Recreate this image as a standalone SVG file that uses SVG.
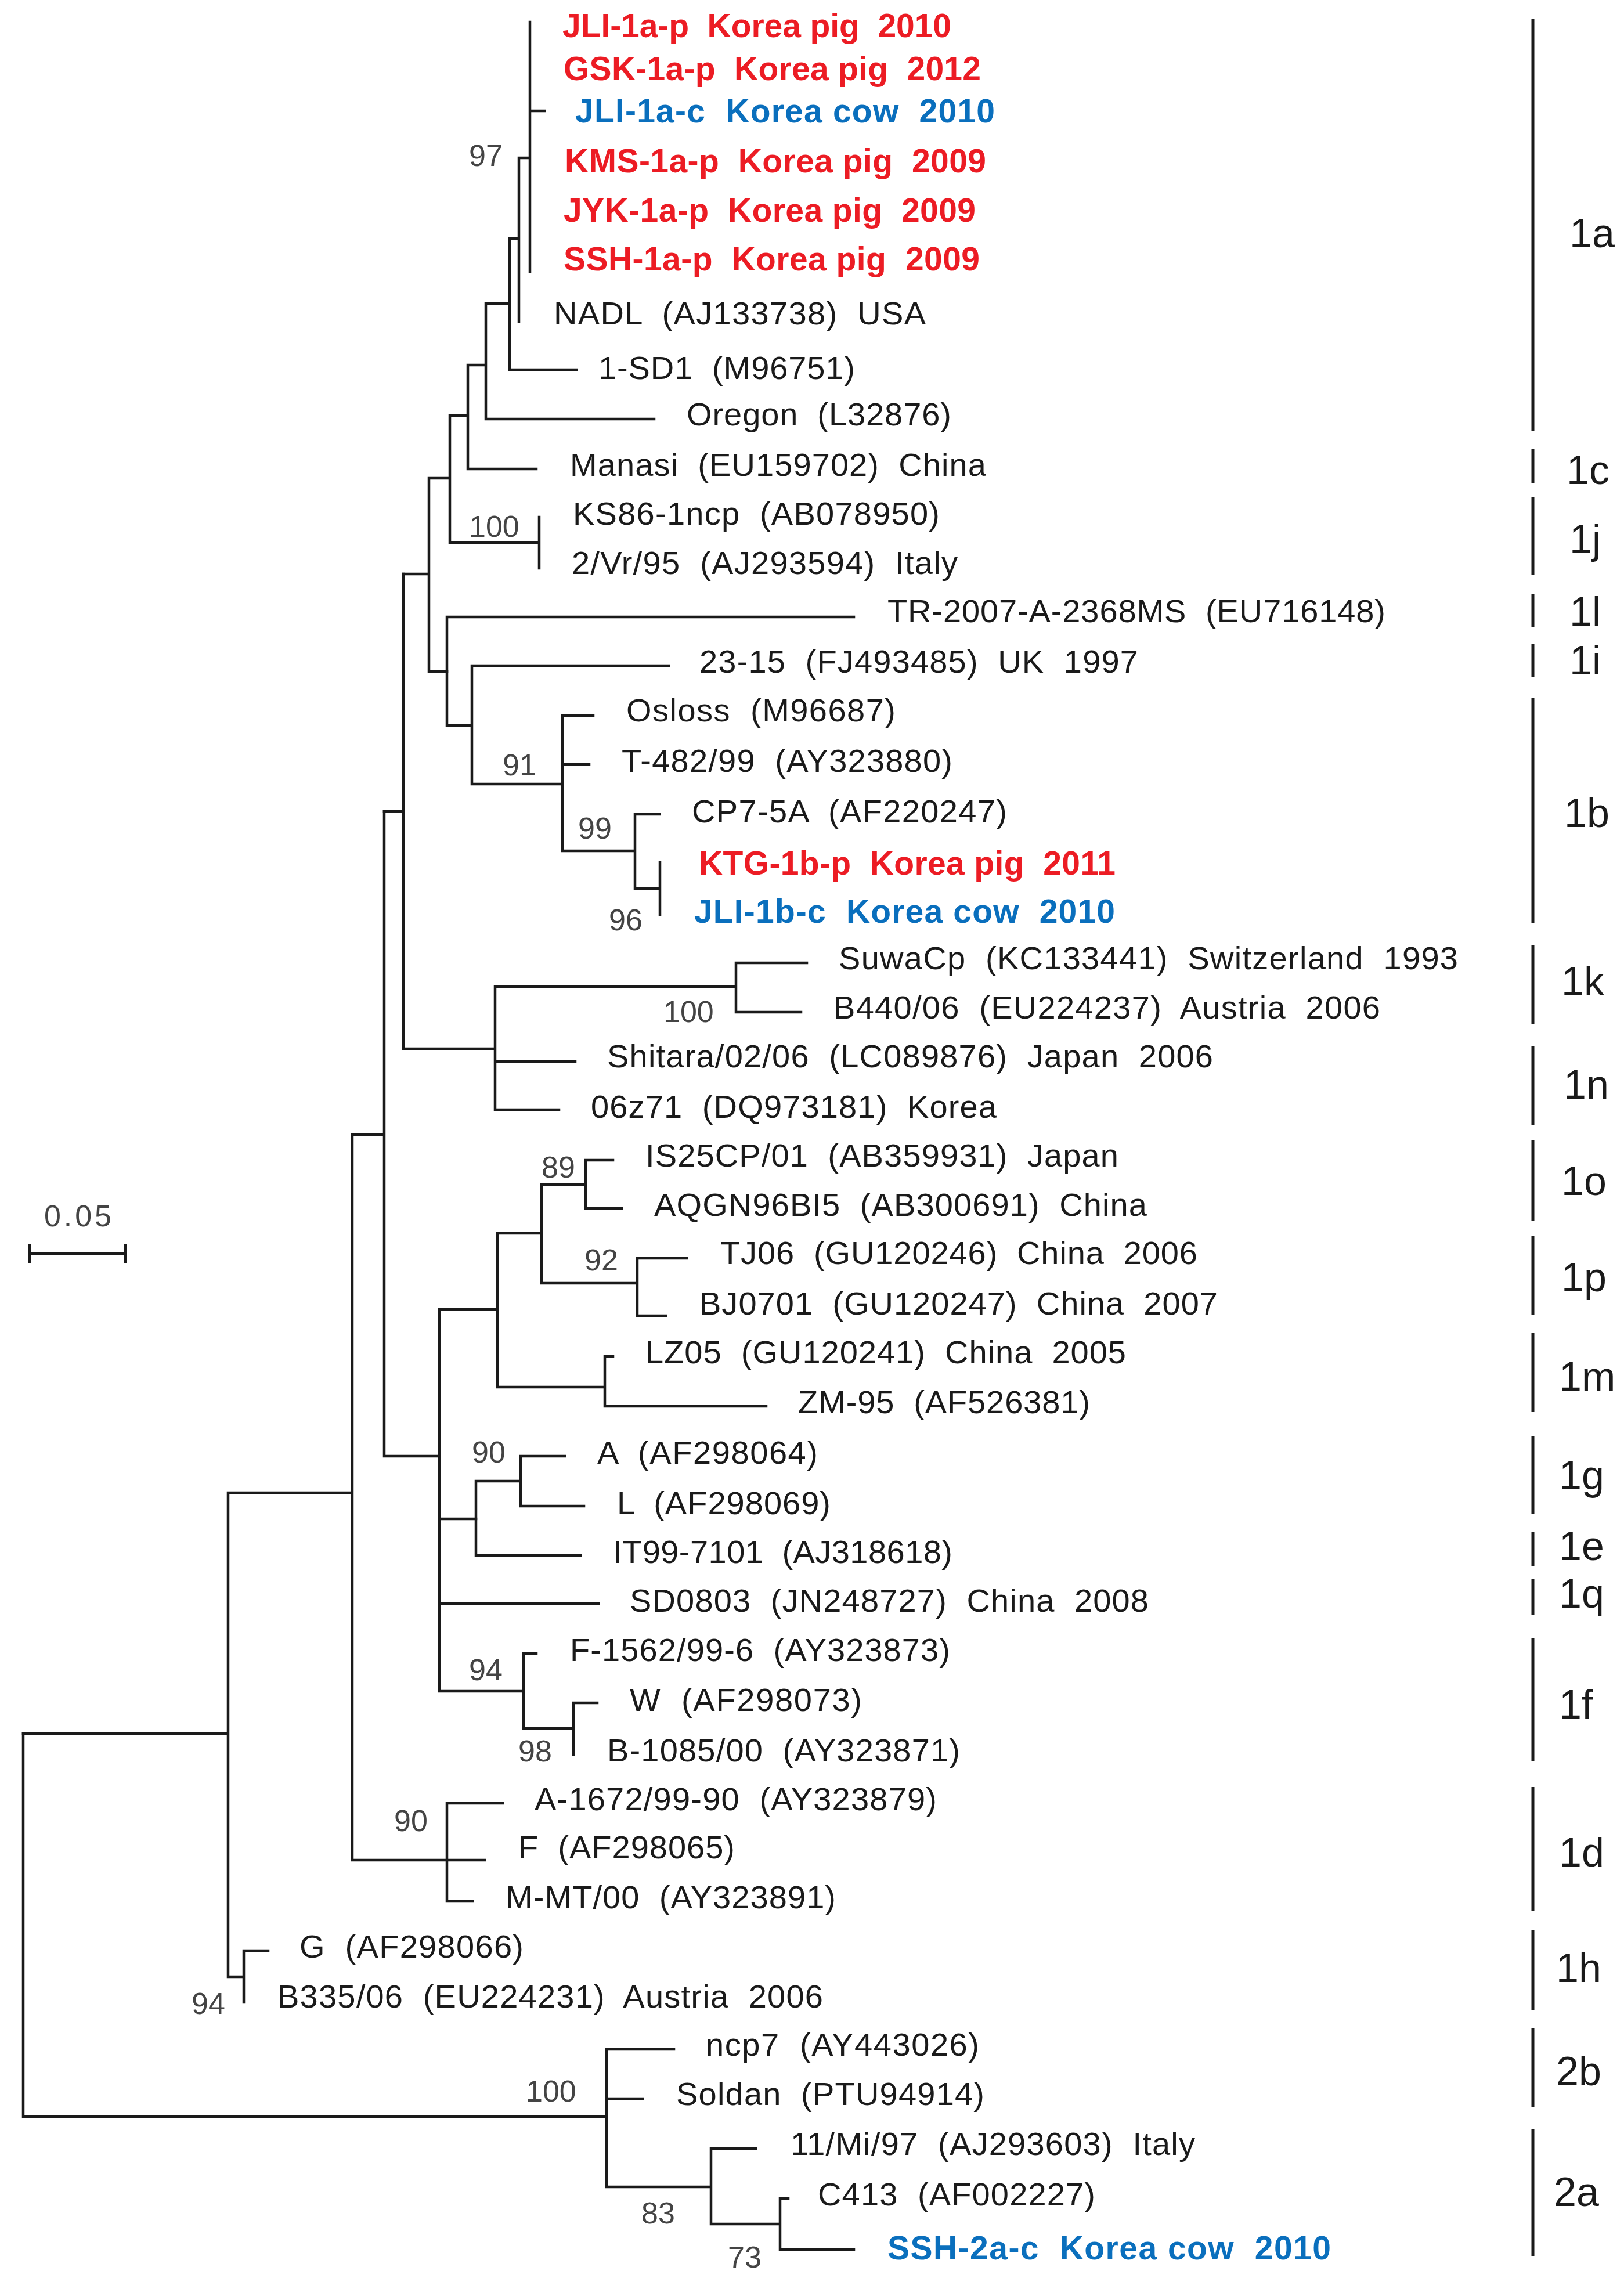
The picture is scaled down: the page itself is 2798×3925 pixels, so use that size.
<svg xmlns="http://www.w3.org/2000/svg" width="2798" height="3925" viewBox="0 0 2798 3925" xml:space="preserve">
<style>
text{font-family:"Liberation Sans",Arial,sans-serif;white-space:pre}
.lf{font-size:56px;fill:#1a1a1a}
.r{font-size:57px;font-weight:bold;fill:#ec1c24}
.b{font-size:57px;font-weight:bold;fill:#0a6fbd}
.bs{font-size:52px;fill:#444}
.cl{font-size:70px;fill:#1a1a1a}
.br path{fill:none;stroke:#1a1a1a;stroke-width:4.5;stroke-linecap:square}
.bar{stroke:#1a1a1a;stroke-width:5}
</style>
<rect width="2798" height="3925" fill="#fff"/>
<g id="connectors" class="br">
<path d="M913,38V468M913,191H938M894,272H913M894,272V554M878,411H894M878,411V637M878,637H993M837,523H878M837,523V722M837,722H1127M806,629H837M806,629V808M806,808H924M775,716H806M775,716V935M775,935H929M929,891V979M739,824H775M739,824V1157M739,1157H770M695,989H739"/>
<path d="M770,1063V1250M770,1063H1471M770,1250H813M813,1147V1351M813,1147H1152M813,1351H969M969,1233V1466M969,1233H1022M969,1317H1015M969,1466H1094M1094,1403V1531M1094,1403H1136M1094,1531H1137M1137,1486V1576"/>
<path d="M695,989V1807M695,1807H853M662,1398H695M853,1700V1912M853,1700H1268M853,1829H991M853,1912H963M1268,1659V1744M1268,1659H1390M1268,1744H1380"/>
<path d="M662,1398V2509M662,2509H757M607,1955H662M757,2256V2914M757,2256H857M757,2617H820M757,2763H1031M757,2914H902M857,2125V2390M857,2125H933M857,2390H1042M933,2041V2211M933,2041H1009M933,2211H1098M1009,1999V2082M1009,1999H1056M1009,2082H1071M1098,2168V2267M1098,2168H1183M1098,2267H1147M1042,2337V2423M1042,2337H1056M1042,2423H1320"/>
<path d="M820,2552V2680M820,2552H897M820,2680H1000M897,2509V2595M897,2509H973M897,2595H1006M902,2849V2978M902,2849H924M902,2978H988M988,2934V3023M988,2934H1029"/>
<path d="M607,1955V3205M607,3205H770M393,2572H607M770,3107V3276M770,3107H866M770,3205H835M770,3276H814M393,2572V3406M393,3406H420M40,2987H393M420,3361V3450M420,3361H462"/>
<path d="M40,2987V3647M40,3647H1045M1045,3531V3768M1045,3531H1161M1045,3616H1107M1045,3768H1225M1225,3702V3832M1225,3702H1302M1225,3832H1344M1344,3788V3876M1344,3788H1358M1344,3876H1471"/>
</g>
<g id="leaves">
<g id="n1"><text class="r" x="969" y="64" textLength="670" lengthAdjust="spacing">JLI-1a-p  Korea pig  2010</text></g>
<g id="n2"><text class="r" x="971" y="138" textLength="719" lengthAdjust="spacing">GSK-1a-p  Korea pig  2012</text></g>
<g id="n3"><text class="b" x="991" y="211" textLength="723" lengthAdjust="spacing">JLI-1a-c  Korea cow  2010</text></g>
<g id="n4"><text class="r" x="973" y="297" textLength="726" lengthAdjust="spacing">KMS-1a-p  Korea pig  2009</text></g>
<g id="n5"><text class="r" x="971" y="382" textLength="710" lengthAdjust="spacing">JYK-1a-p  Korea pig  2009</text></g>
<g id="n6"><text class="r" x="971" y="466" textLength="717" lengthAdjust="spacing">SSH-1a-p  Korea pig  2009</text></g>
<g id="n7"><text class="lf" x="954" y="559" textLength="641" lengthAdjust="spacing">NADL  (AJ133738)  USA</text></g>
<g id="n8"><text class="lf" x="1031" y="653" textLength="442" lengthAdjust="spacing">1-SD1  (M96751)</text></g>
<g id="n9"><text class="lf" x="1183" y="733" textLength="456" lengthAdjust="spacing">Oregon  (L32876)</text></g>
<g id="n10"><text class="lf" x="982" y="820" textLength="717" lengthAdjust="spacing">Manasi  (EU159702)  China</text></g>
<g id="n11"><text class="lf" x="987" y="904" textLength="632" lengthAdjust="spacing">KS86-1ncp  (AB078950)</text></g>
<g id="n12"><text class="lf" x="985" y="989" textLength="665" lengthAdjust="spacing">2/Vr/95  (AJ293594)  Italy</text></g>
<g id="n13"><text class="lf" x="1529" y="1072" textLength="858" lengthAdjust="spacing">TR-2007-A-2368MS  (EU716148)</text></g>
<g id="n14"><text class="lf" x="1205" y="1159" textLength="756" lengthAdjust="spacing">23-15  (FJ493485)  UK  1997</text></g>
<g id="n15"><text class="lf" x="1079" y="1243" textLength="464" lengthAdjust="spacing">Osloss  (M96687)</text></g>
<g id="n16"><text class="lf" x="1071" y="1330" textLength="570" lengthAdjust="spacing">T-482/99  (AY323880)</text></g>
<g id="n17"><text class="lf" x="1192" y="1417" textLength="543" lengthAdjust="spacing">CP7-5A  (AF220247)</text></g>
<g id="n18"><text class="r" x="1204" y="1507" textLength="718" lengthAdjust="spacing">KTG-1b-p  Korea pig  2011</text></g>
<g id="n19"><text class="b" x="1196" y="1590" textLength="725" lengthAdjust="spacing">JLI-1b-c  Korea cow  2010</text></g>
<g id="n20"><text class="lf" x="1445" y="1670" textLength="1067" lengthAdjust="spacing">SuwaCp  (KC133441)  Switzerland  1993</text></g>
<g id="n21"><text class="lf" x="1436" y="1755" textLength="942" lengthAdjust="spacing">B440/06  (EU224237)  Austria  2006</text></g>
<g id="n22"><text class="lf" x="1046" y="1839" textLength="1044" lengthAdjust="spacing">Shitara/02/06  (LC089876)  Japan  2006</text></g>
<g id="n23"><text class="lf" x="1018" y="1926" textLength="699" lengthAdjust="spacing">06z71  (DQ973181)  Korea</text></g>
<g id="n24"><text class="lf" x="1112" y="2010" textLength="815" lengthAdjust="spacing">IS25CP/01  (AB359931)  Japan</text></g>
<g id="n25"><text class="lf" x="1127" y="2095" textLength="849" lengthAdjust="spacing">AQGN96BI5  (AB300691)  China</text></g>
<g id="n26"><text class="lf" x="1241" y="2178" textLength="822" lengthAdjust="spacing">TJ06  (GU120246)  China  2006</text></g>
<g id="n27"><text class="lf" x="1205" y="2265" textLength="893" lengthAdjust="spacing">BJ0701  (GU120247)  China  2007</text></g>
<g id="n28"><text class="lf" x="1112" y="2349" textLength="828" lengthAdjust="spacing">LZ05  (GU120241)  China  2005</text></g>
<g id="n29"><text class="lf" x="1375" y="2435" textLength="503" lengthAdjust="spacing">ZM-95  (AF526381)</text></g>
<g id="n30"><text class="lf" x="1029" y="2522" textLength="380" lengthAdjust="spacing">A  (AF298064)</text></g>
<g id="n31"><text class="lf" x="1063" y="2609" textLength="368" lengthAdjust="spacing">L  (AF298069)</text></g>
<g id="n32"><text class="lf" x="1056" y="2693" textLength="585" lengthAdjust="spacing">IT99-7101  (AJ318618)</text></g>
<g id="n33"><text class="lf" x="1085" y="2777" textLength="894" lengthAdjust="spacing">SD0803  (JN248727)  China  2008</text></g>
<g id="n34"><text class="lf" x="982" y="2862" textLength="655" lengthAdjust="spacing">F-1562/99-6  (AY323873)</text></g>
<g id="n35"><text class="lf" x="1085" y="2948" textLength="400" lengthAdjust="spacing">W  (AF298073)</text></g>
<g id="n36"><text class="lf" x="1046" y="3035" textLength="608" lengthAdjust="spacing">B-1085/00  (AY323871)</text></g>
<g id="n37"><text class="lf" x="921" y="3119" textLength="693" lengthAdjust="spacing">A-1672/99-90  (AY323879)</text></g>
<g id="n38"><text class="lf" x="893" y="3202" textLength="373" lengthAdjust="spacing">F  (AF298065)</text></g>
<g id="n39"><text class="lf" x="871" y="3288" textLength="569" lengthAdjust="spacing">M-MT/00  (AY323891)</text></g>
<g id="n40"><text class="lf" x="516" y="3373" textLength="386" lengthAdjust="spacing">G  (AF298066)</text></g>
<g id="n41"><text class="lf" x="478" y="3459" textLength="940" lengthAdjust="spacing">B335/06  (EU224231)  Austria  2006</text></g>
<g id="n42"><text class="lf" x="1216" y="3542" textLength="471" lengthAdjust="spacing">ncp7  (AY443026)</text></g>
<g id="n43"><text class="lf" x="1165" y="3627" textLength="531" lengthAdjust="spacing">Soldan  (PTU94914)</text></g>
<g id="n44"><text class="lf" x="1362" y="3713" textLength="697" lengthAdjust="spacing">11/Mi/97  (AJ293603)  Italy</text></g>
<g id="n45"><text class="lf" x="1409" y="3800" textLength="478" lengthAdjust="spacing">C413  (AF002227)</text></g>
<g id="n46"><text class="b" x="1529" y="3893" textLength="764" lengthAdjust="spacing">SSH-2a-c  Korea cow  2010</text></g>
</g>
<g id="bootstrap" class="bs">
<text class="bs" x="808" y="286">97</text>
<text class="bs" x="808" y="925">100</text>
<text class="bs" x="866" y="1336">91</text>
<text class="bs" x="996" y="1445">99</text>
<text class="bs" x="1049" y="1603">96</text>
<text class="bs" x="1143" y="1761">100</text>
<text class="bs" x="933" y="2029">89</text>
<text class="bs" x="1007" y="2189">92</text>
<text class="bs" x="813" y="2520">90</text>
<text class="bs" x="808" y="2895">94</text>
<text class="bs" x="893" y="3035">98</text>
<text class="bs" x="679" y="3155">90</text>
<text class="bs" x="330" y="3470">94</text>
<text class="bs" x="906" y="3621">100</text>
<text class="bs" x="1105" y="3831">83</text>
<text class="bs" x="1254" y="3907">73</text>
</g>
<g id="scalebar">
<path d="M51,2160H216M51,2143V2177M216,2143V2177" stroke="#1a1a1a" stroke-width="4.5" fill="none"/>
<text class="bs" x="76" y="2113" textLength="116" lengthAdjust="spacing">0.05</text>
</g>
<g id="clades">
<g id="c1a"><line class="bar" x1="2641" y1="32" x2="2641" y2="742"/><text class="cl" x="2704" y="426">1a</text></g>
<g id="c1c"><line class="bar" x1="2641" y1="773" x2="2641" y2="833"/><text class="cl" x="2699" y="834">1c</text></g>
<g id="c1j"><line class="bar" x1="2641" y1="856" x2="2641" y2="991"/><text class="cl" x="2704" y="953">1j</text></g>
<g id="c1l"><line class="bar" x1="2641" y1="1024" x2="2641" y2="1081"/><text class="cl" x="2704" y="1078">1l</text></g>
<g id="c1i"><line class="bar" x1="2641" y1="1110" x2="2641" y2="1167"/><text class="cl" x="2704" y="1162">1i</text></g>
<g id="c1b"><line class="bar" x1="2641" y1="1202" x2="2641" y2="1590"/><text class="cl" x="2695" y="1425">1b</text></g>
<g id="c1k"><line class="bar" x1="2641" y1="1628" x2="2641" y2="1764"/><text class="cl" x="2690" y="1715">1k</text></g>
<g id="c1n"><line class="bar" x1="2641" y1="1802" x2="2641" y2="1938"/><text class="cl" x="2694" y="1893">1n</text></g>
<g id="c1o"><line class="bar" x1="2641" y1="1965" x2="2641" y2="2103"/><text class="cl" x="2690" y="2059">1o</text></g>
<g id="c1p"><line class="bar" x1="2641" y1="2130" x2="2641" y2="2266"/><text class="cl" x="2690" y="2225">1p</text></g>
<g id="c1m"><line class="bar" x1="2641" y1="2296" x2="2641" y2="2433"/><text class="cl" x="2686" y="2396">1m</text></g>
<g id="c1g"><line class="bar" x1="2641" y1="2474" x2="2641" y2="2609"/><text class="cl" x="2686" y="2566">1g</text></g>
<g id="c1e"><line class="bar" x1="2641" y1="2639" x2="2641" y2="2698"/><text class="cl" x="2686" y="2688">1e</text></g>
<g id="c1q"><line class="bar" x1="2641" y1="2721" x2="2641" y2="2783"/><text class="cl" x="2686" y="2770">1q</text></g>
<g id="c1f"><line class="bar" x1="2641" y1="2822" x2="2641" y2="3035"/><text class="cl" x="2686" y="2961">1f</text></g>
<g id="c1d"><line class="bar" x1="2641" y1="3079" x2="2641" y2="3292"/><text class="cl" x="2686" y="3216">1d</text></g>
<g id="c1h"><line class="bar" x1="2641" y1="3326" x2="2641" y2="3464"/><text class="cl" x="2681" y="3415">1h</text></g>
<g id="c2b"><line class="bar" x1="2641" y1="3494" x2="2641" y2="3630"/><text class="cl" x="2681" y="3593">2b</text></g>
<g id="c2a"><line class="bar" x1="2641" y1="3669" x2="2641" y2="3887"/><text class="cl" x="2677" y="3801">2a</text></g>
</g>
</svg>
